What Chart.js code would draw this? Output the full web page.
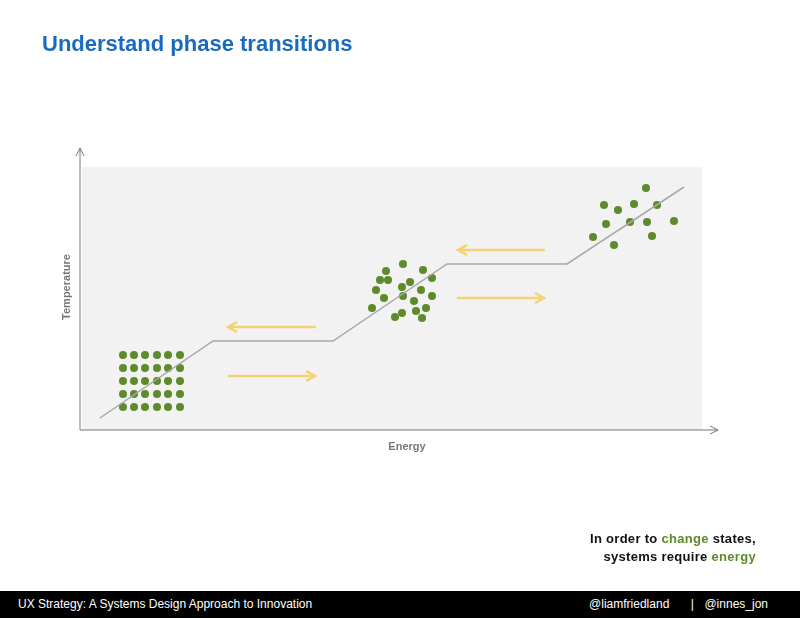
<!DOCTYPE html><html><head><meta charset="utf-8">
<script src="https://cdn.jsdelivr.net/npm/chart.js@4/dist/chart.umd.min.js"></script>
<style>
body{margin:0;width:800px;height:618px;position:relative;background:#fff;font-family:"Liberation Sans",Arial,sans-serif;overflow:hidden}
#t{position:absolute;left:42px;top:31px;font-size:22px;font-weight:bold;color:#1a6bbf}
#c{position:absolute;left:0;top:0}
#note{position:absolute;right:44px;top:530px;text-align:right;font-size:13px;font-weight:bold;line-height:18px;color:#111;letter-spacing:0.3px}
#note span{color:#5d8a2a}
#foot{position:absolute;left:0;top:591px;width:800px;height:27px;background:#000;color:#fff;font-size:12px}
#foot .l{position:absolute;left:18px;top:6px}
#foot .r{position:absolute;right:32px;top:6px;word-spacing:2px}
</style></head><body>
<canvas id="c" width="800" height="618"></canvas>
<div id="t">Understand phase transitions</div>
<div id="note">In order to <span>change</span> states,<br>systems require <span>energy</span></div>
<div id="foot"><span class="l">UX Strategy: A Systems Design Approach to Innovation</span><span class="r">@liamfriedland &nbsp;&nbsp; | &nbsp;@innes_jon</span></div>
<script>
const xLabel="Energy", yLabel="Temperature";
const curveX=[20,133,253,367,487,604];
const curveY=[12,89,89,166,166,243];
const solidX=[43,54,65,77,88,100];
const solidY=[75,62,49,36,23];
const liquidX=[306,323,343,352,308,296,322,341,352,292,304,323,334,346,315,336,342,322,300,330];
const liquidY=[159,166,160,152,150,140,143,140,134,122,132,134,129,122,113,119,112,117,150,148];
const gasX=[566,524,538,554,577,526,550,567,594,513,534,572];
const gasY=[242,225,220,226,225,206,208,208,209,193,185,194];
const arrowsFrom=[[236,103],[465,180],[148,54],[377,132]];
const arrowsTo=[[148,103],[378,180],[235,54],[464,132]];
const green="#5d8a2a", yellow="#f2d272";
const solid=[];solidY.forEach(y=>solidX.forEach(x=>solid.push({x,y})));
const pts=(xs,ys)=>xs.map((x,i)=>({x,y:ys[i]}));
const deco={id:'deco',beforeDatasetsDraw(ch){const {ctx,scales:{x,y}}=ch;
 ctx.save();ctx.fillStyle="#f2f2f2";ctx.fillRect(x.getPixelForValue(2),y.getPixelForValue(263),x.getPixelForValue(622)-x.getPixelForValue(2),y.getPixelForValue(0)-y.getPixelForValue(263));
 ctx.strokeStyle="#777";ctx.lineWidth=1;
 const ox=x.getPixelForValue(0),oy=y.getPixelForValue(0);
 ctx.beginPath();ctx.moveTo(ox,oy);ctx.lineTo(x.getPixelForValue(638),oy);ctx.moveTo(ox,oy);ctx.lineTo(ox,y.getPixelForValue(282));ctx.stroke();
 const ex=x.getPixelForValue(638),ty=y.getPixelForValue(282);
 ctx.beginPath();ctx.moveTo(ex-8,oy-4);ctx.lineTo(ex,oy);ctx.lineTo(ex-8,oy+4);ctx.moveTo(ox-4,ty+8);ctx.lineTo(ox,ty);ctx.lineTo(ox+4,ty+8);ctx.stroke();
 ctx.fillStyle="#777";ctx.font="bold 11px 'Liberation Sans',Arial";ctx.textAlign="center";
 ctx.fillText(xLabel,x.getPixelForValue(327),oy+20);
 ctx.translate(ox-10,y.getPixelForValue(143));ctx.rotate(-Math.PI/2);ctx.fillText(yLabel,0,0);ctx.restore();
 ctx.save();ctx.strokeStyle=yellow;ctx.lineWidth=2.5;
 arrowsFrom.forEach((f,i)=>{const a=[x.getPixelForValue(f[0]),y.getPixelForValue(f[1])],b=[x.getPixelForValue(arrowsTo[i][0]),y.getPixelForValue(arrowsTo[i][1])];const d=Math.sign(b[0]-a[0]);
  ctx.beginPath();ctx.moveTo(a[0],a[1]);ctx.lineTo(b[0],b[1]);ctx.moveTo(b[0]-d*9,b[1]-5);ctx.lineTo(b[0],b[1]);ctx.lineTo(b[0]-d*9,b[1]+5);ctx.stroke();});
 ctx.restore();}};
new Chart(document.getElementById('c'),{type:'scatter',plugins:[deco],
data:{datasets:[
{type:'line',data:pts(curveX,curveY),borderColor:'#a8a8a8',borderWidth:1.5,pointRadius:0,fill:false},
{data:solid,backgroundColor:green,pointRadius:4,borderWidth:0},
{data:pts(liquidX,liquidY),backgroundColor:green,pointRadius:4,borderWidth:0},
{data:pts(gasX,gasY),backgroundColor:green,pointRadius:4,borderWidth:0}]},
options:{responsive:false,animation:false,events:[],layout:{padding:{left:80,right:82,top:148,bottom:188}},
plugins:{legend:{display:false},tooltip:{enabled:false}},
scales:{x:{type:'linear',display:false,min:0,max:638},y:{display:false,min:0,max:282}}}});
</script></body></html>
